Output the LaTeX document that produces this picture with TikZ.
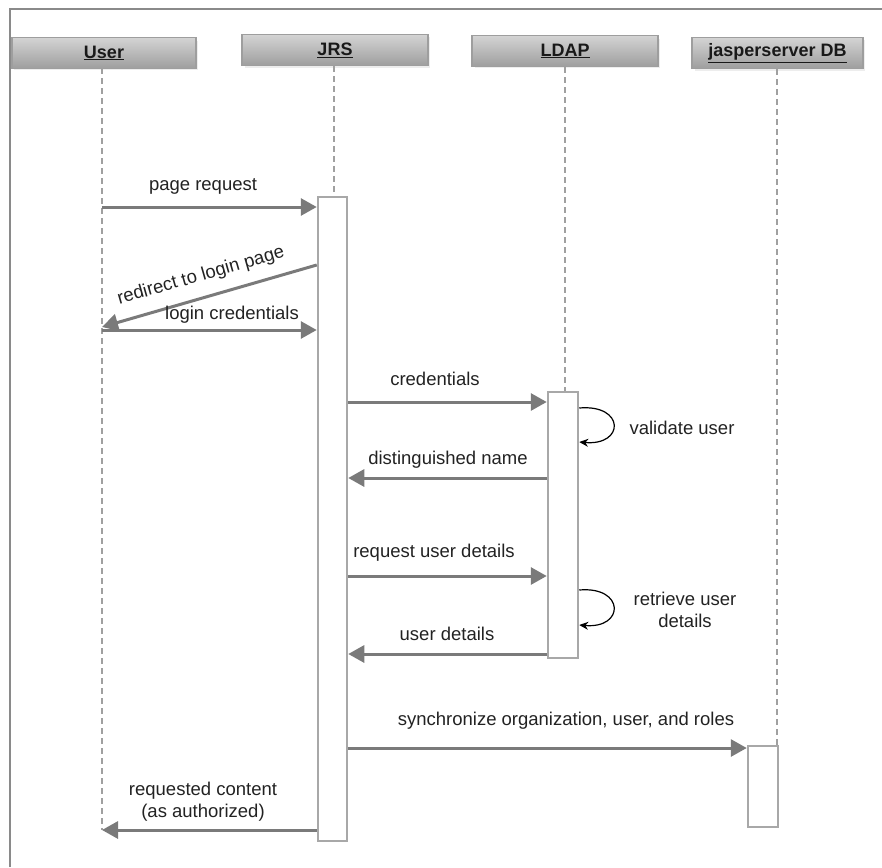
\documentclass[tikz,border=0pt]{standalone}
\usepackage{fontspec}
\setmainfont{Liberation Sans}
\usetikzlibrary{arrows.meta}
\definecolor{linegray}{HTML}{7A7A7A}
\definecolor{boxgray}{HTML}{A8A8A8}
\definecolor{dashgray}{HTML}{A0A0A0}
\definecolor{framegray}{HTML}{8A8A8A}
\definecolor{txt}{HTML}{222222}
\tikzset{
  x=1pt, y=-1pt,
  every node/.style={font=\fontsize{18.5}{22}\selectfont, text=txt},
  header/.style={draw=black!38, line width=1.5pt, top color=black!17, bottom color=black!38,
    minimum height=31pt, inner sep=0pt, font=\bfseries\fontsize{18}{22}\selectfont, text=black!90},
  actbox/.style={draw=boxgray, line width=2.5pt, fill=white, minimum width=29pt, inner sep=0pt},
  lifeline/.style={draw=dashgray, line width=2pt, dash pattern=on 6pt off 4pt},
  msg/.style={draw=linegray, line width=3pt, -{Triangle[length=16pt,width=17pt]}},
  selfloop/.style={draw=black, line width=1.2pt, -{Stealth[length=9pt,width=8pt]}},
  lbl/.style={inner sep=1pt}
}
\begin{document}
\begin{tikzpicture}
\useasboundingbox (0,0) rectangle (882,867);
% frame
\draw[framegray, line width=2.5pt] (10,867) -- (10,9) -- (882,9);

% header shadows
\fill[black!7] (14,41) rectangle (198,70);
\fill[black!7] (245,37) rectangle (430,68);
\fill[black!7] (475,39) rectangle (660,68);
\fill[black!7] (695,40) rectangle (865,71);

% headers
\node[header, minimum width=184pt] (userH) at (104,53) {\raisebox{2pt}{\underline{User}}};
\node[header, minimum width=186pt] (jrsH) at (335,50) {\raisebox{2pt}{\underline{JRS}}};
\node[header, minimum width=186pt] (ldapH) at (565,51) {\raisebox{2pt}{\underline{LDAP}}};
\node[header, minimum width=171pt] (dbH) at (777.5,53) {\raisebox{2pt}{\underline{jasperserver DB}}};

% activation boxes
\node[actbox, minimum height=644pt] (jrsA) at (332.5,519) {};
\node[actbox, minimum width=30pt, minimum height=266pt] (ldapA) at (563,525) {};
\node[actbox, minimum width=30pt, minimum height=81pt] (dbA) at (763,786.5) {};

% lifelines
\coordinate (uTop) at (102,68);
\coordinate (uBot) at (102,830);
\draw[lifeline] (uTop) -- (uBot);
\draw[lifeline] (jrsH.south -| 334,0) -- (jrsA.north -| 334,0);
\draw[lifeline] (ldapH.south -| 565,0) -- (ldapA.north -| 565,0);
\draw[lifeline] (dbH.south -| 777,0) -- (dbA.north -| 777,0);

% messages
\draw[msg] (uTop |- 0,207) -- (jrsA.west |- 0,207);
\node[lbl] (l1) at (203,186) {page request};

\draw[msg] (jrsA.west |- 0,265) -- (uTop |- 0,327);
\node[lbl, rotate=16] (l2) at (201,276) {redirect to login page};

\draw[msg] (uTop |- 0,330) -- (jrsA.west |- 0,330);
\node[lbl] (l3) at (232,315) {login credentials};

\draw[msg] (jrsA.east |- 0,402) -- (ldapA.west |- 0,402);
\node[lbl] (l4) at (435,379) {credentials};

\draw[selfloop] (ldapA.east |- 0,408) .. controls (625,404) and (625,446) .. (ldapA.east |- 0,442);
\node[lbl] (l5) at (682,428) {validate user};

\draw[msg] (ldapA.west |- 0,478) -- (jrsA.east |- 0,478);
\node[lbl] (l6) at (448,460) {distinguished name};

\draw[msg] (jrsA.east |- 0,576) -- (ldapA.west |- 0,576);
\node[lbl] (l7) at (434,553) {request user details};

\draw[selfloop] (ldapA.east |- 0,590) .. controls (625,586) and (625,629) .. (ldapA.east |- 0,625);
\node[lbl, align=center] (l8) at (685,610) {retrieve user\\details};

\draw[msg] (ldapA.west |- 0,654) -- (jrsA.east |- 0,654);
\node[lbl] (l9) at (447,634) {user details};

\draw[msg] (jrsA.east |- 0,748) -- (dbA.west |- 0,748);
\node[lbl] (l10) at (566,721) {synchronize organization, user, and roles};

\draw[msg] (jrsA.west |- 0,830) -- (uBot);
\node[lbl, align=center] (l11) at (203,802) {requested content\\(as authorized)};
\end{tikzpicture}
\end{document}
